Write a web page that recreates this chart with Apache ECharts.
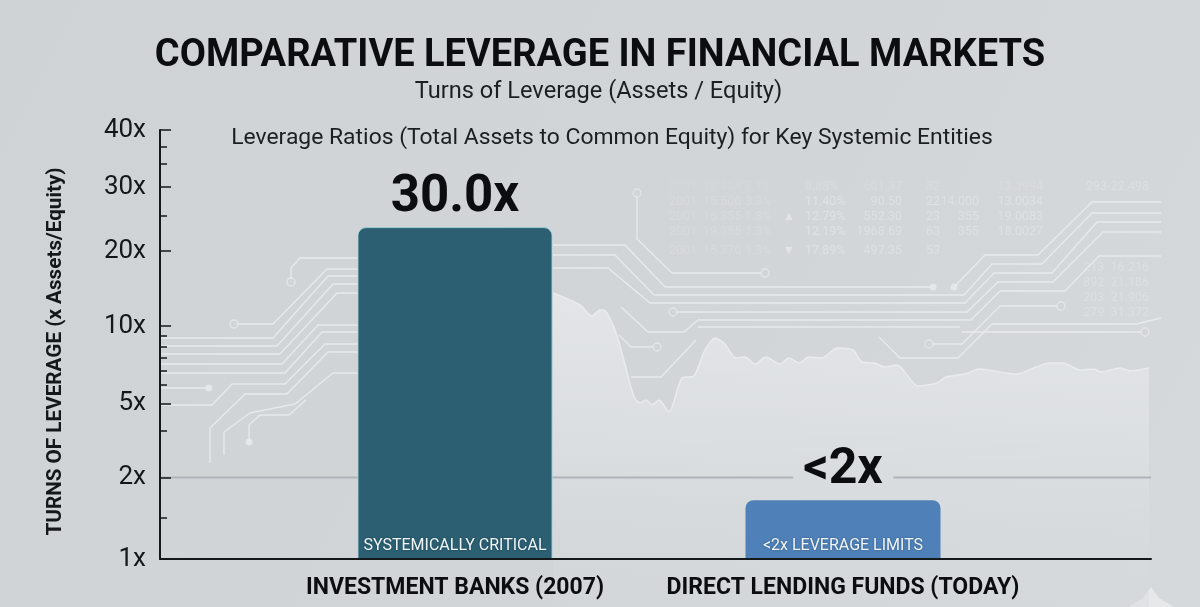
<!DOCTYPE html>
<html>
<head>
<meta charset="utf-8">
<title>Comparative leverage</title>
<style>
html, body { margin: 0; padding: 0; background: #d0d4d7; }
#chart { width: 1200px; height: 607px; }
</style>
<script src="https://cdn.jsdelivr.net/npm/echarts@6/dist/echarts.min.js"></script>
</head>
<body>
<div id="chart"></div>
<script>
// bars
const categories = ['INVESTMENT BANKS (2007)', 'DIRECT LENDING FUNDS (TODAY)'];
const barValues = [23.75, 1.72];
const valueLabels = ['30.0x', '<2x'];
const barTags = ['SYSTEMICALLY CRITICAL', '<2x LEVERAGE LIMITS'];

// the axis in the picture is neither linear nor log, so ticks get their own spacing
const yTicks = [1, 2, 5, 10, 20, 30, 40];
const yTickHeights = [0, 81.5, 155, 232.5, 307.5, 371.5, 428.5];
const yMinorTicks = [1.5, 3.9, 6.2, 7.1, 8, 8.7, 9.4, 25.5, 34, 37];
const referenceLevel = 2;

// backdrop, in picture units
const skylineX = [553, 580, 592, 600, 604, 615, 623, 634, 640, 646, 652, 659, 669, 682, 694, 705, 715, 724, 736, 745, 755, 766, 780, 789, 799, 809, 822, 837, 853, 862, 874, 885, 897, 918, 937, 946, 965, 979, 994, 1006, 1017, 1036, 1050, 1063, 1080, 1094, 1101, 1120, 1130, 1149];
const skylineY = [293, 305, 316, 310, 310, 330, 357, 397, 403, 400, 405, 400, 412, 378, 376, 350, 338, 343, 358, 357, 364, 357, 364, 358, 363, 357, 358, 348, 350, 362, 363, 367, 365, 386, 383, 377, 374, 369, 371, 373, 374, 367, 363, 363, 370, 369, 372, 368, 371, 368];
const traces = [
  [[291, 282], [291, 268], [300, 258], [358, 258]],
  [[234, 324], [273, 324], [327, 269], [358, 269]],
  [[160, 338], [273, 338], [328, 276], [358, 276]],
  [[160, 346], [277, 346], [333, 284], [358, 284]],
  [[160, 354], [280, 354], [337, 293], [358, 293]],
  [[160, 364], [282, 364], [318, 325], [358, 325]],
  [[160, 373], [285, 373], [322, 332], [358, 332]],
  [[160, 388], [209, 388]],
  [[160, 405], [212, 405], [232, 384], [285, 384], [325, 344], [358, 344]],
  [[210, 463], [210, 428], [245, 394], [287, 394], [328, 352], [358, 352]],
  [[224, 455], [224, 432], [250, 413], [295, 404], [333, 373], [358, 373]],
  [[249, 442], [249, 425], [260, 415], [289, 415], [306, 400]],
  [[637, 193], [637, 239], [672, 273], [765, 273]],
  [[553, 245], [625, 245], [665, 287], [933, 287]],
  [[553, 255], [615, 255], [654, 295], [964, 295], [992, 264], [1042, 264], [1092, 213], [1161, 213]],
  [[553, 268], [608, 268], [650, 303], [965, 303], [994, 273], [1052, 273], [1097, 222], [1161, 222]],
  [[954, 287], [985, 255], [1038, 255], [1092, 202], [1161, 202]],
  [[673, 312], [967, 312], [998, 282], [1053, 282], [1103, 232], [1161, 232]],
  [[621, 307], [648, 332], [684, 332], [698, 320], [971, 320], [1000, 291], [1065, 291], [1099, 256], [1161, 256]],
  [[929, 344], [962, 344], [1000, 306], [1061, 306]],
  [[962, 332], [1145, 332]],
  [[698, 327], [960, 327]],
  [[879, 337], [900, 358], [958, 358], [992, 324], [1136, 324], [1161, 318]],
  [[619, 335], [631, 347], [657, 347]],
  [[696, 340], [661, 377], [631, 377]]
];
const hollowNodes = [[291, 282], [234, 324], [637, 193], [765, 273], [673, 312], [657, 347], [929, 344], [1061, 306], [1145, 332]];
const solidNodes = [[209, 388], [249, 442], [933, 287], [954, 287]];

// faint ticker table behind the traces
const tickerRowY = [187, 202, 217, 232, 251];
const tickerCols = [
  { x: 669, align: 'left', alpha: 0.2, texts: ['2001', '2001', '2001', '2001', '2001'] },
  { x: 703, align: 'left', alpha: 0.2, texts: ['18.404', '15.500', '16.355', '19.355', '15.370'] },
  { x: 745, align: 'left', alpha: 0.2, texts: ['7.1%', '3.3%', '1.3%', '1.3%', '1.3%'] },
  { x: 789, align: 'center', alpha: 0.55, texts: ['', '', '▲', '', '▼'] },
  { x: 805, align: 'left', alpha: 0.45, texts: ['8.88%', '11.40%', '12.79%', '12.19%', '17.89%'] },
  { x: 902, align: 'right', alpha: 0.4, texts: ['601.37', '90.50', '552.30', '1968.69', '497.35'] },
  { x: 940, align: 'right', alpha: 0.4, texts: ['32', '22', '23', '63', '53'] },
  { x: 979, align: 'right', alpha: 0.4, texts: ['', '14.000', '355', '355', ''] },
  { x: 1043, align: 'right', alpha: 0.4, texts: ['13.3994', '13.0034', '19.0083', '18.0027', ''] }
];
const tickerSide = [
  ['293-22.498', 187], ['213  16.216', 268], ['892  21.186', 283], ['203  21.906', 298], ['279  31.372', 313]
];

// piecewise spacing between tick positions
function warp(v) {
  for (let i = 1; i < yTicks.length; i++) {
    if (v <= yTicks[i]) {
      const t = (v - yTicks[i - 1]) / (yTicks[i] - yTicks[i - 1]);
      return yTickHeights[i - 1] + t * (yTickHeights[i] - yTickHeights[i - 1]);
    }
  }
  return yTickHeights[yTickHeights.length - 1];
}

const yMax = yTickHeights[yTickHeights.length - 1];
const inkColor = '#15181a';
const traceColor = '#e8ebec';
const barStyles = [
  { color: '#2b5f71', borderColor: 'rgba(165,212,224,0.85)', borderWidth: 1, borderRadius: [8, 8, 0, 0] },
  { color: '#4f80b8', borderRadius: [8, 8, 0, 0] }
];
const labelStyles = [
  { fontSize: 51, distance: 3 },
  { fontSize: 50, distance: 5 }
];

const backdropText = [];
tickerCols.forEach(col => {
  col.texts.forEach((text, r) => {
    if (text) {
      const alpha = r === 0 ? col.alpha * 0.5 : col.alpha;
      backdropText.push({
        type: 'text', silent: true, z: 1, x: col.x, y: tickerRowY[r],
        style: { text, fill: `rgba(238,241,242,${alpha})`, font: '12.5px Roboto', textAlign: col.align, textVerticalAlign: 'middle' }
      });
    }
  });
});
tickerSide.forEach(([text, y]) => {
  backdropText.push({
    type: 'text', silent: true, z: 1, x: 1149, y,
    style: { text, fill: 'rgba(238,241,242,0.3)', font: '12.5px Roboto', textAlign: 'right', textVerticalAlign: 'middle' }
  });
});
// small pale corner shape under the right end of the axis
backdropText.push({
  type: 'polygon', silent: true, z: 1,
  shape: { points: [[1128, 607], [1143, 598], [1151, 587], [1159, 598], [1174, 607]] },
  style: { fill: '#e6e8ea' }
});

const chart = echarts.init(document.getElementById('chart'), null, { renderer: 'canvas' });

chart.setOption({
  animation: false,
  backgroundColor: new echarts.graphic.LinearGradient(0, 0, 1, 1, [
    { offset: 0, color: '#cfd3d6' },
    { offset: 0.55, color: '#d2d5d8' },
    { offset: 1, color: '#d6d9db' }
  ]),
  textStyle: { fontFamily: 'Roboto, sans-serif' },
  title: [
    {
      text: 'COMPARATIVE LEVERAGE IN FINANCIAL MARKETS', left: 595, top: 32, textAlign: 'center',
      textStyle: { fontSize: 38, fontWeight: 'bold', color: '#0c0d0e', fontFamily: 'Roboto' }
    },
    {
      text: 'Turns of Leverage (Assets / Equity)', left: 593.5, top: 75, textAlign: 'center',
      textStyle: { fontSize: 23.6, fontWeight: 'normal', color: '#1c1f21', fontFamily: 'Roboto' }
    },
    {
      text: 'Leverage Ratios (Total Assets to Common Equity) for Key Systemic Entities', left: 607, top: 122, textAlign: 'center',
      textStyle: { fontSize: 22.9, fontWeight: 'normal', color: '#1c1f21', fontFamily: 'Roboto' }
    }
  ],
  graphic: backdropText,
  grid: [
    { left: 160, right: 49, top: 130, bottom: 48 },
    { left: 261, width: 776, top: 130, bottom: 48 },
    { left: 0, right: 0, top: 0, bottom: 0 }
  ],
  xAxis: [
    {
      gridIndex: 0, type: 'value', min: 0, max: 1, z: 6,
      axisLine: { show: true, lineStyle: { color: inkColor, width: 2 } },
      axisTick: { show: false }, axisLabel: { show: false }, splitLine: { show: false }
    },
    {
      gridIndex: 1, type: 'category', data: categories, z: 6,
      axisLine: { show: false }, axisTick: { show: false },
      axisLabel: { interval: 0, margin: 18, color: '#0c0d0e', fontSize: 23, fontWeight: 'bold', fontFamily: 'Roboto' }
    },
    { gridIndex: 2, type: 'value', min: 0, max: 1200, show: false }
  ],
  yAxis: [
    {
      gridIndex: 0, type: 'value', min: 0, max: yMax, z: 6, position: 'left',
      name: 'TURNS OF LEVERAGE (x Assets/Equity)', nameLocation: 'middle', nameGap: 94, nameRotate: 90,
      nameTextStyle: { fontSize: 20.7, fontWeight: 'bold', color: '#15181a', fontFamily: 'Roboto', padding: [0, 0, 0, -14] },
      axisLine: { show: true, lineStyle: { color: inkColor, width: 2 } },
      axisTick: { show: true, inside: true, length: 11, lineStyle: { color: inkColor, width: 1.5 }, customValues: yTicks.map(warp) },
      axisLabel: {
        margin: 14, fontSize: 26, color: '#15181a', fontFamily: 'Roboto', padding: [3, 0, 0, 0],
        customValues: yTicks.map(warp),
        formatter: v => yTicks[yTickHeights.indexOf(v)] + 'x'
      },
      splitLine: { show: false }
    },
    {
      gridIndex: 0, type: 'value', min: 0, max: yMax, z: 6, position: 'left',
      axisLine: { show: false },
      axisTick: { show: true, inside: true, length: 7, lineStyle: { color: inkColor, width: 1.5 }, customValues: yMinorTicks.map(warp) },
      axisLabel: { show: false }, splitLine: { show: false }
    },
    { gridIndex: 1, type: 'value', min: 0, max: yMax, show: false },
    { gridIndex: 2, type: 'value', min: 0, max: 607, inverse: true, show: false }
  ],
  series: [
    {
      type: 'line', xAxisIndex: 2, yAxisIndex: 3, z: 1, silent: true, symbol: 'none', smooth: 0.25,
      data: skylineX.map((x, i) => [x, skylineY[i]]),
      lineStyle: { color: '#e9ebec', width: 1.5 },
      areaStyle: {
        origin: 'end',
        color: new echarts.graphic.LinearGradient(0, 0, 0, 1, [
          { offset: 0, color: 'rgba(236,238,239,0.95)' },
          { offset: 0.45, color: 'rgba(226,229,231,0.85)' },
          { offset: 1, color: 'rgba(213,216,219,0.5)' }
        ])
      }
    },
    ...traces.map(path => ({
      type: 'line', xAxisIndex: 2, yAxisIndex: 3, z: 1, silent: true, symbol: 'none',
      data: path,
      lineStyle: { color: traceColor, width: 1.4, opacity: 0.95 }
    })),
    {
      type: 'scatter', xAxisIndex: 2, yAxisIndex: 3, z: 1, silent: true, symbolSize: 8,
      data: hollowNodes,
      itemStyle: { color: '#d0d4d7', borderColor: traceColor, borderWidth: 1.3 }
    },
    {
      type: 'scatter', xAxisIndex: 2, yAxisIndex: 3, z: 1, silent: true, symbolSize: 7,
      data: solidNodes,
      itemStyle: { color: traceColor }
    },
    {
      // the line stops either side of the "<2x" label
      type: 'line', xAxisIndex: 0, yAxisIndex: 0, z: 2, silent: true, symbol: 'none',
      data: [[0, warp(referenceLevel)], [0.639, warp(referenceLevel)], ['-', '-'], [0.74, warp(referenceLevel)], [1, warp(referenceLevel)]],
      lineStyle: { color: '#aeb4ba', width: 2 }
    },
    {
      type: 'bar', xAxisIndex: 1, yAxisIndex: 2, z: 3, barWidth: 195, barGap: '-100%',
      data: barValues.map((v, i) => ({
        value: warp(v),
        itemStyle: barStyles[i],
        label: labelStyles[i]
      })),
      label: {
        show: true, position: 'top',
        formatter: p => valueLabels[p.dataIndex],
        fontFamily: 'Roboto', fontWeight: 'bold', color: '#0c0d0e'
      }
    },
    {
      type: 'bar', xAxisIndex: 1, yAxisIndex: 2, z: 4, barWidth: 195, barGap: '-100%', silent: true,
      data: barValues.map(warp),
      itemStyle: { color: 'transparent' },
      label: {
        show: true, position: 'insideBottom', distance: 5,
        formatter: p => barTags[p.dataIndex],
        fontFamily: 'Roboto', fontSize: 16, color: '#f0f6f7',
        textShadowColor: 'rgba(20,40,60,0.5)', textShadowBlur: 2
      }
    }
  ]
});
</script>
</body>
</html>
